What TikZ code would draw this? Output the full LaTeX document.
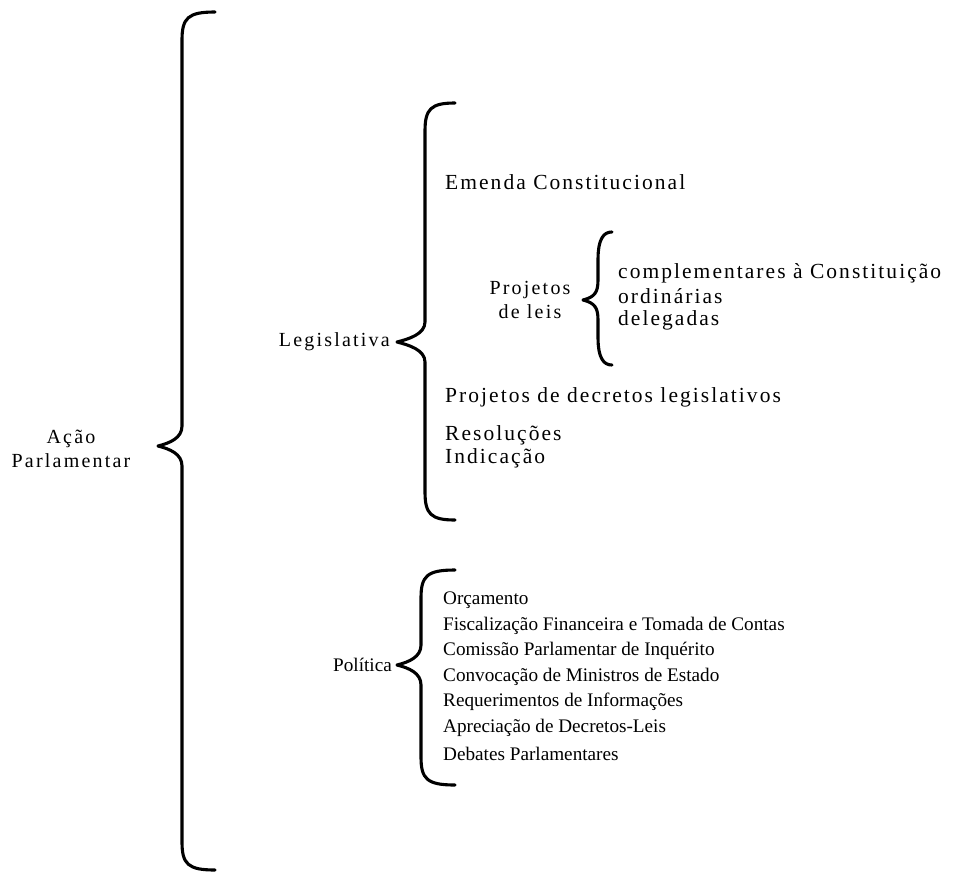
\documentclass[tikz,border=0pt]{standalone}
\usepackage{fontspec}
\setmainfont{Liberation Serif}
\newcommand\mybrace[6]{% tipx, tipy, spinex, endx, topy, boty
  \draw[bracestyle] (#4,#5) .. controls ({#3+6},#5) and (#3,{#5+6}) .. (#3,{#5+28})
    -- (#3,{#2-20}) .. controls (#3,{#2-8}) and ({#1+12},{#2-3}) .. (#1,#2)
    .. controls ({#1+12},{#2+3}) and (#3,{#2+8}) .. (#3,{#2+20})
    -- (#3,{#6-28}) .. controls (#3,{#6-6}) and ({#3+6},#6) .. (#4,#6);}
\begin{document}
\begin{tikzpicture}[x=1pt,y=-1pt,
  bracestyle/.style={line width=3.1pt, line cap=round, line join=round},
  txt/.style={inner sep=0pt, font=\fontsize{19.2}{24}\selectfont},
  lbl/.style={inner sep=0pt, font=\fontsize{20}{24}\selectfont\addfontfeature{LetterSpace=11}},
  leg/.style={inner sep=0pt, font=\fontsize{21.5}{24}\selectfont\addfontfeature{LetterSpace=9.5}},
  item/.style={txt, anchor=west}]
\useasboundingbox (0,0) rectangle (960,883);
% level 0
\node[lbl, align=center] (acao) at (71,449) {Ação\\Parlamentar};
\mybrace{158}{446}{182}{215}{12}{870}
% Legislativa
\node[lbl, anchor=east] (legis) at (390,342) {Legislativa};
\mybrace{397}{342}{425}{455}{103}{520}
\node[leg, anchor=west] (emenda) at (445,182) {Emenda Constitucional};
\node[lbl, align=center] (projleis) at (530,300) {Projetos\\de leis};
\mybrace{583}{300}{598}{612}{232}{365}
\node[leg, anchor=west] (compl) at (618,273) {complementares à Constituição};
\node[leg, anchor=west] (ordin) at (618,296) {ordinárias};
\node[leg, anchor=west] (deleg) at (618,320) {delegadas};
\node[leg, anchor=west] (decr) at (445,397) {Projetos de decretos legislativos};
\node[leg, anchor=west] (resol) at (445,435) {Resoluções};
\node[leg, anchor=west] (indic) at (445,458) {Indicação};
% Politica
\node[txt, anchor=east] (polit) at (392,665) {Política};
\mybrace{397}{665}{421}{455}{570}{785}
\node[item] (orc) at (443,600) {Orçamento};
\node[item] (fisc) at (443,626) {Fiscalização Financeira e Tomada de Contas};
\node[item] (cpi) at (443,651) {Comissão Parlamentar de Inquérito};
\node[item] (conv) at (443,677) {Convocação de Ministros de Estado};
\node[item] (req) at (443,702) {Requerimentos de Informações};
\node[item] (apr) at (443,728) {Apreciação de Decretos-Leis};
\node[item] (deb) at (443,754) {Debates Parlamentares};
\end{tikzpicture}
\end{document}
